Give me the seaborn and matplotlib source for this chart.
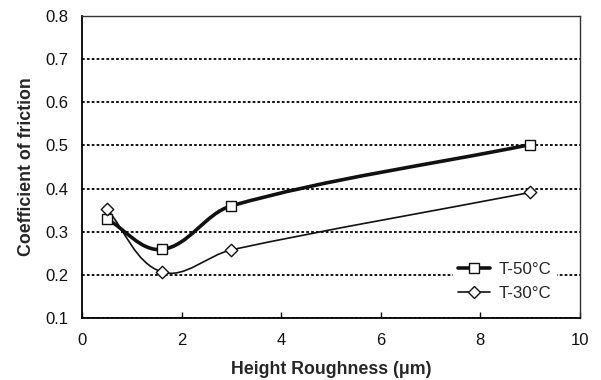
import numpy as np
import matplotlib.pyplot as plt
from matplotlib.path import Path
from matplotlib.patches import PathPatch
from matplotlib.lines import Line2D
from matplotlib.ticker import FormatStrFormatter
import seaborn as sns

# data
roughness = [0.5, 1.6, 3.0, 9.0]
cof_50 = [0.330, 0.259, 0.360, 0.502]
cof_30 = [0.353, 0.207, 0.258, 0.391]
series_labels = ['T-50°C', 'T-30°C']

sns.set_style('white')
plt.rcParams['font.family'] = ['Liberation Sans', 'DejaVu Sans']

fig = plt.figure(figsize=(6.01, 3.80), dpi=100)
ax = fig.add_axes([0.1364, 0.163, 0.8286, 0.795])
ax.set_xlim(0, 10)
ax.set_ylim(0.1, 0.8)


# excel style smoothed line (bezier through the points)
def smooth_line(x, y, lw):
    pts = ax.transData.transform(np.column_stack([x, y]))
    p = np.vstack([pts[0], pts, pts[-1]])
    verts = [pts[0]]
    codes = [Path.MOVETO]
    for i in range(1, len(p) - 2):
        d = np.linalg.norm(p[i + 1] - p[i])
        t0 = p[i + 1] - p[i - 1]
        t0 = t0 / np.linalg.norm(t0)
        t1 = p[i + 2] - p[i]
        t1 = t1 / np.linalg.norm(t1)
        verts += [p[i] + t0 * d / 3, p[i + 1] - t1 * d / 3, p[i + 1]]
        codes += [Path.CURVE4] * 3
    verts = ax.transData.inverted().transform(np.array(verts))
    ax.add_patch(PathPatch(Path(verts, codes), fill=False, lw=lw, ec='#111111',
                           transform=ax.transData, zorder=3))


smooth_line(roughness, cof_50, 2.6)
smooth_line(roughness, cof_30, 1.2)

sns.scatterplot(x=roughness, y=cof_50, marker='s', s=60, color='white',
                edgecolor='#111111', linewidth=1.0, zorder=4, ax=ax)
sns.scatterplot(x=roughness, y=cof_30, marker='D', s=40, color='white',
                edgecolor='#111111', linewidth=1.0, zorder=4, ax=ax)

ax.yaxis.grid(True, color='black', linestyle=(0, (1.5, 1.2)), lw=1.3)
ax.xaxis.grid(False)
ax.set_yticks(np.arange(0.1, 0.81, 0.1))
ax.set_xticks(range(0, 11, 2))
ax.yaxis.set_major_formatter(FormatStrFormatter('%.1f'))

for s in ['left', 'bottom']:
    ax.spines[s].set_color('black')
    ax.spines[s].set_linewidth(1.3)
for s in ['top', 'right']:
    ax.spines[s].set_color('#333333')
    ax.spines[s].set_linewidth(1.0)

ax.tick_params(axis='y', length=0, pad=10, labelsize=12, colors='#111111')
ax.tick_params(axis='x', direction='in', length=4, width=1, pad=11,
               labelsize=12, colors='#111111', bottom=True, top=False)

ax.set_xlabel('Height Roughness (μm)', fontsize=12.8, fontweight='bold', labelpad=9)
ax.set_ylabel('Coefficient of friction', fontsize=12.8, fontweight='bold', labelpad=7)

handles = [
    Line2D([], [], color='#111111', lw=2.6, marker='s', ms=7.5, mfc='white', mec='#111111'),
    Line2D([], [], color='#111111', lw=1.2, marker='D', ms=6, mfc='white', mec='#111111'),
]
leg = ax.legend(handles, series_labels, loc='lower right', bbox_to_anchor=(0.97, 0.012),
                fontsize=12.2, frameon=True, facecolor='white', edgecolor='none',
                framealpha=1, handlelength=1.9, handletextpad=0.5, labelspacing=0.5,
                borderpad=0.3)

fig.savefig('out.png', dpi=100)
